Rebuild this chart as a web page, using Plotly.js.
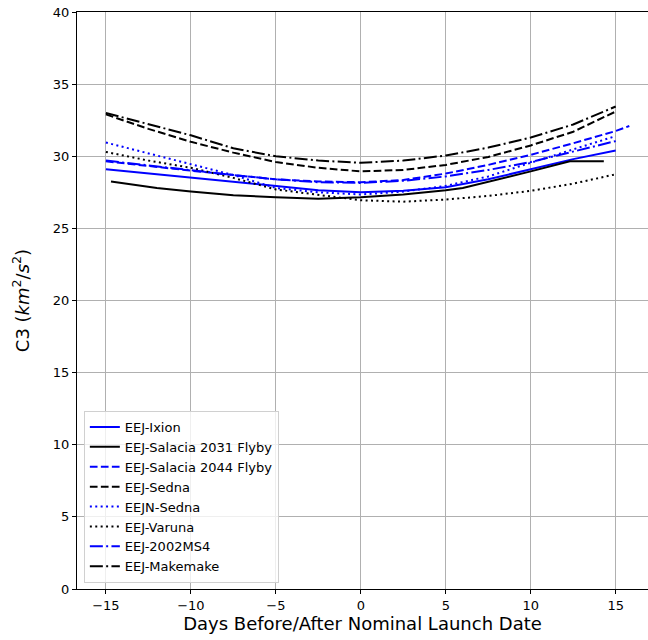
<!DOCTYPE html>
<html><head><meta charset="utf-8">
<script src="https://cdn.plot.ly/plotly-3.0.1.min.js"></script>
<style>html,body{margin:0;padding:0;background:#fff}</style>
</head><body><div id="chart" style="width:648px;height:640px"></div>
<script>
const days = [-15,-12.5,-10,-7.5,-5,-2.5,0,2.5,5,7.5,10,12.5,15];
const ixion = [29.1,28.8,28.55,28.25,27.95,27.65,27.5,27.6,27.85,28.4,29.1,29.8,30.4];
const salacia31Days = [-14.7,-12,-10,-7.5,-5,-2.5,0,2.5,5,6,10,12.3,14.3];
const salacia31 = [28.25,27.8,27.55,27.3,27.15,27.05,27.15,27.35,27.65,27.8,28.95,29.65,29.65];
const salacia44Days = [-15,-12.5,-10,-7.5,-5,-2.5,0,2.5,5,7.5,10,12.5,15,15.8];
const salacia44 = [29.65,29.3,29.0,28.7,28.4,28.25,28.2,28.35,28.8,29.4,30.1,30.9,31.75,32.1];
const sedna = [32.9,31.9,31.0,30.25,29.6,29.2,28.95,29.05,29.4,29.95,30.75,31.7,33.1];
const eejnSedna = [30.95,30.2,29.5,28.7,27.8,27.5,27.35,27.55,27.95,28.6,29.55,30.5,31.4];
const varuna = [30.3,29.7,29.2,28.5,27.7,27.35,26.95,26.85,27.0,27.25,27.6,28.1,28.75];
const ms4 = [29.7,29.35,29.05,28.7,28.4,28.2,28.15,28.3,28.6,29.05,29.6,30.3,31.05];
const makemake = [33.0,32.2,31.45,30.55,30.0,29.7,29.55,29.7,30.05,30.6,31.3,32.2,33.45];
const names = ["EEJ-Ixion","EEJ-Salacia 2031 Flyby","EEJ-Salacia 2044 Flyby","EEJ-Sedna","EEJN-Sedna","EEJ-Varuna","EEJ-2002MS4","EEJ-Makemake"];
const yTicks = [0,5,10,15,20,25,30,35,40];
const xTicks = [-15,-10,-5,0,5,10,15];

const DASHED = "7.7px,3.3px", DOTTED = "2px,3.4px", DASHDOT = "13px,3.3px,2px,3.3px";
function tr(x, y, name, color, dash) {
  return {x: x, y: y, name: name, type: "scatter", mode: "lines",
    line: {color: color, width: 2, dash: dash}};
}
const data = [
  tr(days, ixion, names[0], "#0000ff", "solid"),
  tr(salacia31Days, salacia31, names[1], "#000000", "solid"),
  tr(salacia44Days, salacia44, names[2], "#0000ff", DASHED),
  tr(days, sedna, names[3], "#000000", DASHED),
  tr(days, eejnSedna, names[4], "#0000ff", DOTTED),
  tr(days, varuna, names[5], "#000000", DOTTED),
  tr(days, ms4, names[6], "#0000ff", DASHDOT),
  tr(days, makemake, names[7], "#000000", DASHDOT)
];
const fnt = "DejaVu Sans, sans-serif";
const layout = {
  width: 648, height: 640,
  margin: {l: 77, r: 0, t: 12, b: 51},
  paper_bgcolor: "#fff", plot_bgcolor: "#fff",
  font: {family: fnt, size: 13, color: "#000"},
  showlegend: true,
  legend: {x: 0.012, y: 0.0104, xanchor: "left", yanchor: "bottom",
    bgcolor: "rgba(255,255,255,0.8)", bordercolor: "#d0d0d0", borderwidth: 1,
    font: {family: fnt, size: 13, color: "#000"}, tracegroupgap: 0},
  xaxis: {range: [-16.7, 16.9], tickvals: xTicks, ticktext: xTicks.map(v => v < 0 ? "\u2212" + (-v) : String(v)),
    showgrid: true, gridcolor: "#b0b0b0", gridwidth: 1,
    showline: true, linecolor: "#000", linewidth: 1, mirror: true,
    ticks: "outside", ticklen: 4, tickcolor: "#000", zeroline: false,
    tickfont: {family: fnt, size: 13},
    title: {text: "Days Before/After Nominal Launch Date", font: {family: fnt, size: 18}, standoff: 4}},
  yaxis: {range: [0, 40], tickvals: yTicks, showgrid: true, gridcolor: "#b0b0b0", gridwidth: 1,
    showline: true, linecolor: "#000", linewidth: 1,
    ticks: "outside", ticklen: 4, tickcolor: "#000", zeroline: false,
    tickfont: {family: fnt, size: 13},
    title: {text: "C3 (<i>km</i><sup>2</sup>/<i>s</i><sup>2</sup>)", font: {family: fnt, size: 18}, standoff: 18}}
};
Plotly.newPlot("chart", data, layout, {displayModeBar: false, staticPlot: true});
</script></body></html>
